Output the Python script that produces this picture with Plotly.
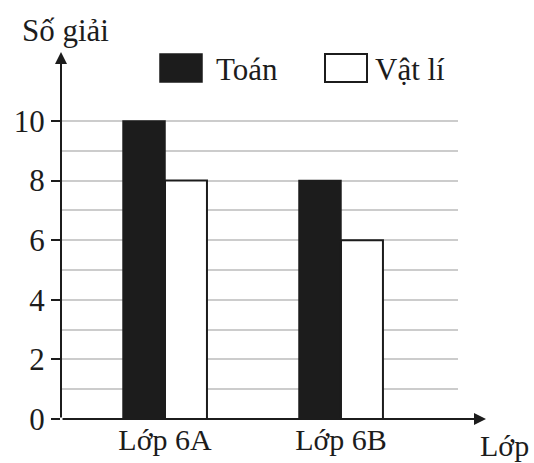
import plotly.graph_objects as go

categories = ["Lớp 6A", "Lớp 6B"]
series_names = ["Toán", "Vật lí"]
toan = [10, 8]
vat_li = [8, 6]
y_tick_vals = [0, 2, 4, 6, 8, 10]
y_minor_vals = [1, 3, 5, 7, 9]
y_title = "Số giải"
x_title = "Lớp"

FONT = "Liberation Serif"
FS = 31
INK = "#1c1c1c"
L, R, T, B = 61, 76, 52, 44
W, H = 534, 463
pw, ph = W - L - R, H - T - B

def px_x(p):
    return (p - L) / pw

def px_y(p):
    return (H - B - p) / ph

fig = go.Figure()
fig.add_trace(go.Bar(x=categories, y=toan, name=series_names[0],
                     marker=dict(color=INK, line=dict(color=INK, width=1.5)),
                     showlegend=False))
fig.add_trace(go.Bar(x=categories, y=vat_li, name=series_names[1],
                     marker=dict(color="white", line=dict(color=INK, width=2)),
                     showlegend=False))

fig.update_layout(
    width=W, height=H,
    margin=dict(l=L, r=R, t=T, b=B, autoexpand=False),
    paper_bgcolor="white", plot_bgcolor="white",
    barmode="group", bargap=0.523, bargroupgap=0,
    font=dict(family=FONT, color=INK, size=FS),
    xaxis=dict(range=[-0.591, 1.665], showgrid=False, zeroline=False, showline=False,
               automargin=False, ticks="",
               tickfont=dict(family=FONT, size=30, color=INK)),
    yaxis=dict(range=[0, ph / 29.8], tickvals=y_tick_vals, showgrid=True,
               automargin=False,
               gridcolor="#cccccc", gridwidth=1.5, zeroline=False, showline=False,
               ticks="outside", ticklen=9, tickwidth=2, tickcolor=INK,
               tickfont=dict(family=FONT, size=FS, color=INK),
               minor=dict(tickvals=y_minor_vals, showgrid=True, gridcolor="#cccccc",
                          gridwidth=1.5, ticks="")),
)

# axes with arrows
fig.add_annotation(xref="paper", yref="paper", x=0, y=1, ax=0, ay=ph,
                   showarrow=True, arrowhead=2, arrowsize=1.2, arrowwidth=2,
                   arrowcolor=INK, text="")
fig.add_annotation(xref="paper", yref="paper", x=px_x(486), y=0, ax=-(486 - L), ay=0,
                   showarrow=True, arrowhead=2, arrowsize=1.2, arrowwidth=2,
                   arrowcolor=INK, text="")

# axis titles
fig.add_annotation(xref="paper", yref="paper", x=px_x(20), y=px_y(30), xanchor="left",
                   yanchor="middle", showarrow=False, text=y_title,
                   font=dict(family=FONT, size=FS, color=INK))
fig.add_annotation(xref="paper", yref="paper", x=px_x(504), y=px_y(445), xanchor="center",
                   yanchor="middle", showarrow=False, text=x_title,
                   font=dict(family=FONT, size=30, color=INK))

# legend
fig.add_shape(type="rect", xref="paper", yref="paper", x0=px_x(160), x1=px_x(202),
              y0=px_y(82), y1=px_y(54), fillcolor=INK,
              line=dict(color=INK, width=1.5))
fig.add_annotation(xref="paper", yref="paper", x=px_x(214), y=px_y(69), xanchor="left",
                   yanchor="middle", showarrow=False, text=series_names[0],
                   font=dict(family=FONT, size=FS, color=INK))
fig.add_shape(type="rect", xref="paper", yref="paper", x0=px_x(325), x1=px_x(367),
              y0=px_y(82), y1=px_y(54), fillcolor="white",
              line=dict(color=INK, width=2))
fig.add_annotation(xref="paper", yref="paper", x=px_x(373), y=px_y(69), xanchor="left",
                   yanchor="middle", showarrow=False, text=series_names[1],
                   font=dict(family=FONT, size=FS, color=INK))

fig.write_html("out.html")
